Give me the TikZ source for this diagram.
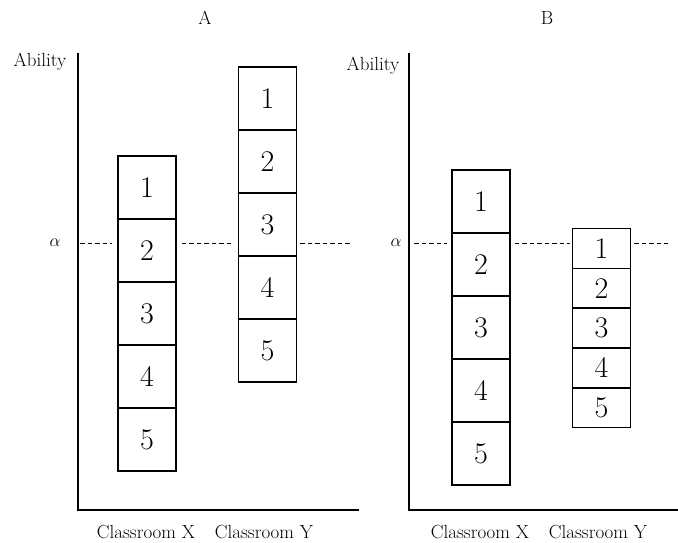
\documentclass[tikz,border=0pt]{standalone}
\usepackage{fontspec}
\usepackage{tikz}
\usetikzlibrary{positioning,calc}

\begin{document}
\begin{tikzpicture}[x = 1pt, y = -1pt,
    cell/.style = {draw, line width = 1.6pt, minimum width = 58pt, minimum height = 63pt, inner sep = 0pt, font = \fontsize{30}{33}\selectfont},
    smallcell/.style = {cell, minimum height = 39.8pt},
    lbl/.style = {font = \fontsize{19}{22}\selectfont},
    axis/.style = {line width = 1.6pt},
    cutoff/.style = {dashed, line width = 1pt, dash pattern = on 4.5pt off 3pt}]
    \useasboundingbox (0,0) rectangle (678,542);
    % panel A
    \node[lbl] (ta) at (205,18) {A};
    \node[lbl] (abila) at (40,62) {Ability};
    \node[lbl] (alpha) at (55,243) {$\alpha$};
    \coordinate (oa) at (78,510);
    \coordinate (topa) at (78,53);
    \coordinate (enda) at (359,510);
    \draw[axis] (topa) -- (oa) -- (enda);
    \node[cell] (ax1) at (147,187.5) {1};
    \node[cell] (ax2) at (147,250.5) {2};
    \node[cell] (ax3) at (147,313.5) {3};
    \node[cell] (ax4) at (147,376.5) {4};
    \node[cell] (ax5) at (147,439.5) {5};
    \node[cell] (ay1) at (267.5,98.5) {1};
    \node[cell] (ay2) at (267.5,161.5) {2};
    \node[cell] (ay3) at (267.5,224.5) {3};
    \node[cell] (ay4) at (267.5,287.5) {4};
    \node[cell] (ay5) at (267.5,350.5) {5};
    \coordinate (la) at (78,243);
    \coordinate (ra) at (350,243);
    \draw[cutoff, shorten <= 2pt, shorten >= 5pt] (la) -- (la -| ax2.west);
    \draw[cutoff, shorten <= 5pt, shorten >= 5pt] (la -| ax2.east) -- (la -| ay3.west);
    \draw[cutoff, shorten <= 3pt] (la -| ay3.east) -- (ra);
    \node[lbl] (cxa) at (146,532) {Classroom X};
    \node[lbl] (cya) at (264,532) {Classroom Y};
    % panel B
    \node[lbl] (tb) at (547,18) {B};
    \node[lbl] (abilb) at (373,66) {Ability};
    \node[lbl] (alphb) at (396,243) {$\alpha$};
    \coordinate (ob) at (409,510);
    \coordinate (topb) at (409,53);
    \coordinate (endb) at (678,510);
    \draw[axis] (topb) -- (ob) -- (endb);
    \node[cell] (bx1) at (481,201.5) {1};
    \node[cell] (bx2) at (481,264.5) {2};
    \node[cell] (bx3) at (481,327.5) {3};
    \node[cell] (bx4) at (481,390.5) {4};
    \node[cell] (bx5) at (481,453.5) {5};
    \node[smallcell] (by1) at (601.5,248.4) {1};
    \node[smallcell] (by2) at (601.5,288.2) {2};
    \node[smallcell] (by3) at (601.5,328) {3};
    \node[smallcell] (by4) at (601.5,367.8) {4};
    \node[smallcell] (by5) at (601.5,407.6) {5};
    \coordinate (lb) at (409,243);
    \coordinate (rb) at (668,243);
    \draw[cutoff, shorten <= 5pt, shorten >= 4pt] (lb) -- (lb -| bx2.west);
    \draw[cutoff, shorten <= 4pt, shorten >= 2pt] (lb -| bx2.east) -- (lb -| by1.west);
    \draw[cutoff, shorten <= 3pt] (lb -| by1.east) -- (rb);
    \node[lbl] (cxb) at (480,532) {Classroom X};
    \node[lbl] (cyb) at (598,532) {Classroom Y};
\end{tikzpicture}
\end{document}
